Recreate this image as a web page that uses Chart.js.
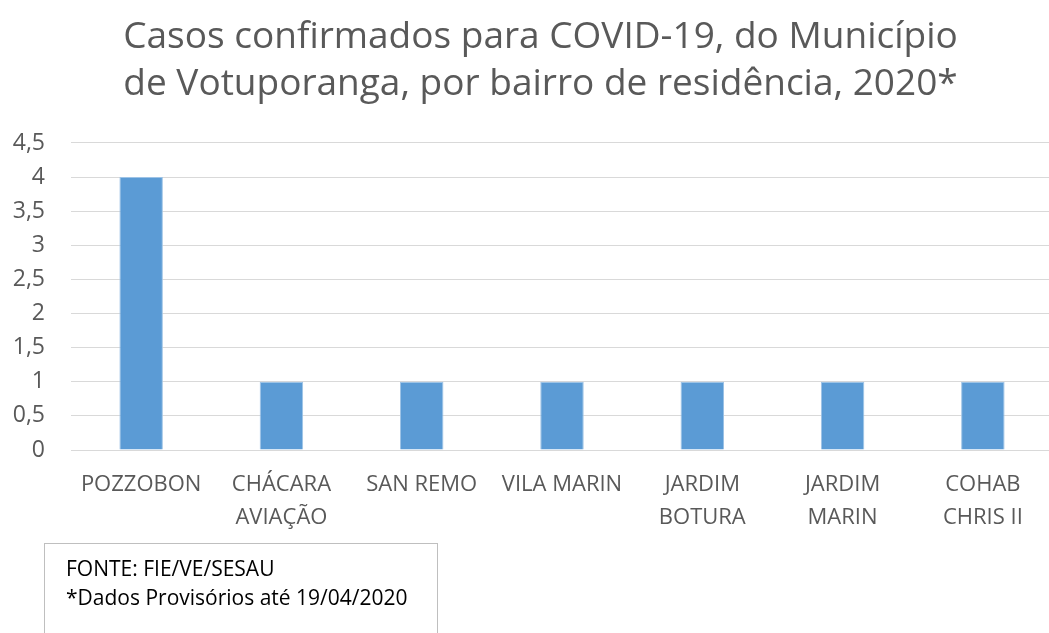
<!DOCTYPE html>
<html>
<head>
<meta charset="utf-8">
<script src="https://cdn.jsdelivr.net/npm/chart.js@4"></script>
<style>
  html, body { margin: 0; padding: 0; background: #fff; overflow: hidden; width: 1049px; height: 633px; }
  #wrap { position: absolute; left: 0; top: 0; width: 1053px; height: 633px; }
  #fonte {
    position: absolute; left: 44px; top: 543px; width: 394px; height: 110px;
    border: 1px solid #bfbfbf; box-sizing: border-box;
    font-family: 'Open Sans', sans-serif; font-size: 21px; color: #000;
    padding: 10px 0 0 21px; line-height: 29px;
  }
</style>
</head>
<body>
<div id="wrap"><canvas id="myChart"></canvas></div>
<div id="fonte">FONTE: FIE/VE/SESAU<br>*Dados Provisórios até 19/04/2020</div>
<script>
const bairros = [
    'POZZOBON',
    ['CHÁCARA', 'AVIAÇÃO'],
    'SAN REMO',
    'VILA MARIN',
    ['JARDIM', 'BOTURA'],
    ['JARDIM', 'MARIN'],
    ['COHAB', 'CHRIS II']
];
const casos = [4, 1, 1, 1, 1, 1, 1];
const tituloLinhas = ['Casos confirmados para COVID-19, do Município', 'de Votuporanga, por bairro de residência, 2020*'];

// desloca o título um pouco para a direita, como no original
const deslocaTitulo = {
    id: 'deslocaTitulo',
    afterLayout(chart) {
        if (chart.titleBlock) {
            chart.titleBlock.left += 14;
            chart.titleBlock.right += 14;
        }
    }
};

const ctx = document.getElementById('myChart').getContext('2d');
new Chart(ctx, {
    type: 'bar',
    data: {
        labels: bairros,
        datasets: [{
            label: 'Casos',
            data: casos,
            backgroundColor: '#5b9bd5',
            borderColor: '#9dc3e6',
            borderWidth: 1,
            barPercentage: 0.31,
            categoryPercentage: 1
        }]
    },
    options: {
        responsive: true,
        maintainAspectRatio: false,
        animation: false,
        layout: {
            padding: { left: 0, right: 0, top: 10, bottom: 89 }
        },
        scales: {
            x: {
                grid: { display: false },
                border: { color: '#d9d9d9' },
                ticks: {
                    color: '#595959',
                    font: { family: 'Open Sans', size: 22, lineHeight: 1.5 },
                    maxRotation: 0,
                    autoSkip: false,
                    padding: 10
                }
            },
            y: {
                min: 0,
                max: 4.5,
                grid: { color: '#d9d9d9', drawTicks: false },
                border: { display: false },
                afterFit: scale => { scale.width = 71; },
                ticks: {
                    stepSize: 0.5,
                    color: '#595959',
                    padding: 26,
                    font: { family: 'Open Sans', size: 23 },
                    callback: v => String(v).replace('.', ',')
                }
            }
        },
        plugins: {
            legend: { display: false },
            tooltip: { enabled: false },
            title: {
                display: true,
                text: tituloLinhas,
                color: '#595959',
                font: { family: 'Open Sans', size: 37, weight: 'normal', lineHeight: 1.27 },
                padding: { top: 4, bottom: 35 }
            }
        }
    },
    plugins: [deslocaTitulo]
});
</script>
</body>
</html>
